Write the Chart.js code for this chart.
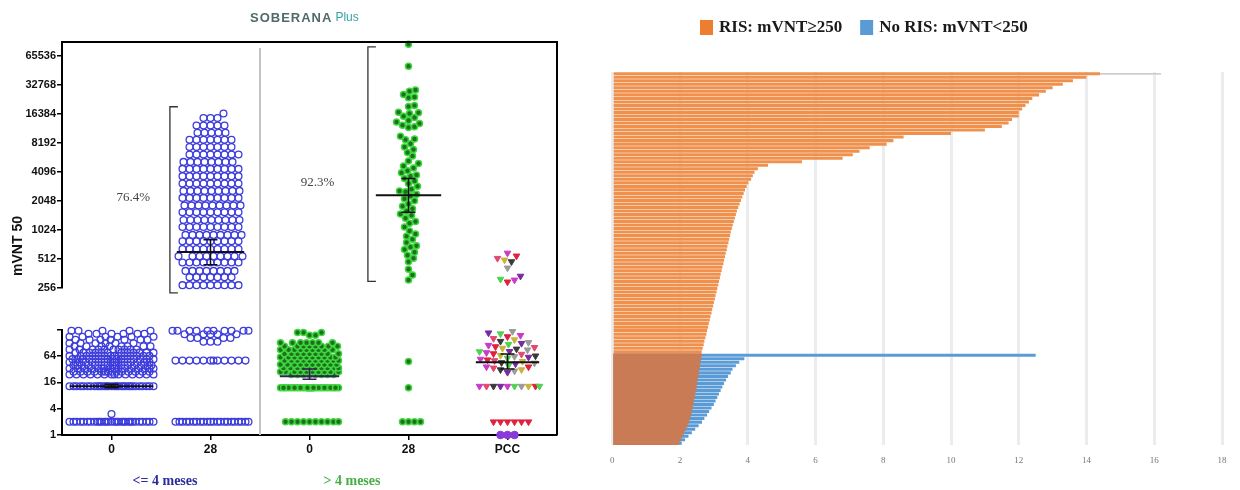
<!DOCTYPE html>
<html>
<head>
<meta charset="utf-8">
<script src="https://cdn.jsdelivr.net/npm/chart.js@4.4.0/dist/chart.umd.min.js"></script>
<style>
  html, body { margin: 0; padding: 0; background: #fff; }
  #wrap { position: relative; width: 1240px; height: 490px; overflow: hidden; }
  #dotChart { position: absolute; left: 0; top: 0; }
  #barChart { position: absolute; left: 600px; top: 0; }
</style>
</head>
<body>
<div id="wrap">
  <canvas id="dotChart" width="600" height="490"></canvas>
  <canvas id="barChart" width="640" height="490"></canvas>
</div>
<script>
// ---------- left panel: mVNT50 by group, entries are titre or [titre, count] ----------
const groupLabels = ['0', '28', '0', '28', 'PCC'];
const periodLabels = ['<= 4 meses', '> 4 meses'];
const upperTicks = [256, 512, 1024, 2048, 4096, 8192, 16384, 32768, 65536];
const lowerTicks = [1, 4, 16, 64, 250];
const cutoff = 250;

const early0 = [[2, 30], [3, 1], [13, 30], [24, 14], [28, 14], [33, 15], [39, 15], [46, 15], [54, 15],
  [64, 14], [76, 12], [90, 10], [106, 8], [125, 6], [150, 7], [175, 6], [205, 6], [240, 5]];
const early28 = [[2, 22], [50, 12], [135, 3], [165, 4], [200, 5], [240, 10],
  [274, 9], [330, 7], [385, 8], [470, 9], [545, 9], [650, 9], [780, 9], [910, 9], [1100, 9],
  [1300, 9], [1560, 9], [1840, 9], [2200, 9], [2600, 9], [3100, 9], [3700, 9], [4400, 9],
  [5200, 8], [6200, 8], [7400, 7], [8800, 7], [10400, 5], [12400, 5], [14800, 3], [16500, 1]];
const late0 = [[2, 10], [12, 26], [24, 8], [28, 10], [34, 10], [41, 10], [50, 10], [60, 10],
  [72, 9], [88, 9], [106, 8], [128, 7], [190, 2], [220, 3]];
const late28 = [[2, 4], 12, 48,
  86000, 51000, 29000, 28000, 26000, 24500, 24000, 20000, 19500, 17000, 16800, 16500, 15500,
  15000, 14000, 13500, 13000, 12500, 12000, 11800, 9600, 9000, 8800, 8000, 7400, 7000, 6500,
  6000, 5300, 5000, 4700, 4500, 4200, 4000, 3800, 3700, 3500, 3300, 3100, 2900, 2700, 2600,
  2550, 2400, 2300, 2150, 2050, 1900, 1800, 1700, 1600, 1500, 1450, 1350, 1250, 1200, 1100,
  1000, 930, 880, 820, 760, 700, 680, 640, 600, 560, 520, 480, 400, 350, 310];
const pcc = [[1, 3], [2, 6], [13, 10],
  27, 29, 31, 31, 34, 36, 36, 39, 42, 44, 45, 48, 50, 52, 54, 57, 60, 62, 64, 66, 70, 72, 76,
  80, 81, 88, 92, 96, 100, 104, 112, 118, 124, 130, 138, 150, 160, 176, 188, 205, 215, 232,
  296, 310, 316, 340, 413, 480, 500, 520, 550, 590];

// geometric means with 95% CI per group
const gmt = [13, 605, 22, 2350, 46];
const gmtLow = [12, 445, 18.7, 1560, 32];
const gmtHigh = [14.5, 810, 32, 3500, 71];

// responder percentages and brackets (day 28 groups)
const pctText = ['76.4%', '92.3%'];
const pctGroup = [1, 3];
const bracketLow = [228, 300];
const bracketHigh = [19400, 81000];

// ---------- right panel: per-subject values ----------
const risValues = [14.4, 14.0, 13.6, 13.3, 13.0, 12.8, 12.6, 12.4, 12.3, 12.2, 12.1, 12.0, 12.0,
  11.8, 11.7, 11.5, 11.0, 10.0, 8.6, 8.3, 8.1, 7.6, 7.3, 7.1, 6.8, 5.6, 4.6, 4.3, 4.2, 4.15, 4.1,
  4.02, 3.97, 3.92, 3.88, 3.84, 3.80, 3.76, 3.72, 3.68, 3.65, 3.62, 3.59, 3.56, 3.53, 3.50,
  3.48, 3.45, 3.43, 3.40, 3.38, 3.35, 3.33, 3.30, 3.28, 3.25, 3.23, 3.20, 3.18, 3.15, 3.13,
  3.10, 3.08, 3.05, 3.03, 3.00, 2.98, 2.95, 2.93, 2.90, 2.88, 2.85, 2.83, 2.80, 2.78, 2.75,
  2.72, 2.70, 2.67, 2.64];
const risLowRows = [2.62, 2.60, 2.58, 2.57, 2.55, 2.54, 2.52, 2.50, 2.48, 2.47, 2.45, 2.43, 2.41,
  2.39, 2.37, 2.35, 2.33, 2.30, 2.27, 2.24, 2.20, 2.15, 2.10, 2.05, 2.00, 1.95];
const noRisValues = [12.5, 3.9, 3.75, 3.65, 3.55, 3.5, 3.42, 3.36, 3.3, 3.25, 3.2, 3.15, 3.1,
  3.05, 3.0, 2.93, 2.86, 2.8, 2.72, 2.65, 2.55, 2.45, 2.35, 2.25, 2.15, 2.05];
const topRef = [16.2];
const legendLabels = ['RIS: mVNT\u2265250', 'No RIS: mVNT<250'];

// ---------- helpers ----------
const X_PX = 99;                              // px per group on the x scale
const UP_PX = 246 / Math.log2(91000 / 256);   // px per doubling, upper segment
const LOW_PX = 105 / Math.log2(250);          // px per doubling, lower segment

function expand(list) {
  const out = [];
  list.forEach(it => {
    if (Array.isArray(it)) { for (let k = 0; k < it[1]; k++) out.push(it[0]); }
    else out.push(it);
  });
  return out;
}

// greedy beeswarm: nearest free spot to the centre, else the least crowded one
function swarm(vals, center, pxPerLog, d, half) {
  const placed = [];
  const pts = [];
  vals.slice().sort((a, b) => a - b).forEach(v => {
    const py = Math.log2(v) * pxPerLog;
    let best = 0, bestGap = -1;
    for (let k = 0; k <= 2 * half; k++) {
      const off = (k % 2 ? 1 : -1) * Math.ceil(k / 2);
      let gap = Infinity;
      for (const p of placed) {
        const dy = p.py - py;
        if (Math.abs(dy) >= d) continue;
        gap = Math.min(gap, Math.hypot(p.off - off, dy));
      }
      if (gap >= d) { best = off; bestGap = gap; break; }
      if (gap > bestGap) { bestGap = gap; best = off; }
    }
    placed.push({py: py, off: best});
    pts.push({x: center + best / X_PX, y: v});
  });
  return pts;
}

function split(list) {
  const all = expand(list);
  return { low: all.filter(v => v < cutoff), up: all.filter(v => v >= cutoff) };
}

const g1 = split(early0), g2 = split(early28), g3 = split(late0), g4 = split(late28), g5 = split(pcc);

const blue = { pointStyle: 'circle', pointRadius: 3.4, pointBorderWidth: 1.3,
  pointBorderColor: '#3c3cdc', pointBackgroundColor: 'rgba(255,255,255,0)' };
const green = { pointStyle: 'circle', pointRadius: 3, pointBorderWidth: 1.5,
  pointBorderColor: '#3ed83e', pointBackgroundColor: '#1f6f1f' };
const pccPalette = ['#e0203c', '#c83cc8', '#4fd24f', '#7a2aa0', '#9a9a9a', '#3a3a3a', '#c8b43c', '#e04a70'];
function pccColor(ctx) {
  const v = ctx.raw ? ctx.raw.y : 10;
  if (v <= 1) return '#8a3ad8';
  if (v <= 2) return '#e0203c';
  return pccPalette[ctx.dataIndex % pccPalette.length];
}
const tri = { pointStyle: ctx => (ctx.raw && ctx.raw.y <= 1 ? 'circle' : 'triangle'), pointRotation: 180,
  pointRadius: 3.8, pointBorderWidth: 1, pointBorderColor: pccColor, pointBackgroundColor: pccColor };

function ds(pts, axis, style) {
  return Object.assign({ data: pts, yAxisID: axis, showLine: false, clip: false }, style);
}

const dotDatasets = [
  ds(swarm(g1.low, 0, LOW_PX, 7, 42), 'yLow', blue),
  ds(swarm(g2.up, 1, UP_PX, 7, 38), 'yUp', blue),
  ds(swarm(g2.low, 1, LOW_PX, 7, 38), 'yLow', blue),
  ds(swarm(g3.low, 2, LOW_PX, 6, 29), 'yLow', green),
  ds(swarm(g4.up, 3, UP_PX, 6, 30), 'yUp', green),
  ds(swarm(g4.low, 3, LOW_PX, 6, 30), 'yLow', green),
  ds(swarm(g5.up, 4, UP_PX, 7, 32), 'yUp', tri),
  ds(swarm(g5.low, 4, LOW_PX, 7, 32), 'yLow', tri)
];

const meanHalf = [0.42, 0.34, 0.3, 0.33, 0.32];

const dotDecor = {
  id: 'dotDecor',
  beforeDatasetsDraw(chart) {
    const {ctx, chartArea: a, scales: {x}} = chart;
    ctx.save();
    ctx.strokeStyle = '#c4c4c4';
    ctx.lineWidth = 2;
    const px = x.getPixelForValue(1.5);
    ctx.beginPath(); ctx.moveTo(px, a.top + 6); ctx.lineTo(px, a.bottom); ctx.stroke();
    ctx.restore();
  },
  afterDatasetsDraw(chart) {
    const {ctx, chartArea: a, scales} = chart;
    const x = scales.x;
    ctx.save();
    // frame top and right
    ctx.strokeStyle = '#000';
    ctx.lineWidth = 2;
    ctx.beginPath();
    ctx.moveTo(a.left, a.top); ctx.lineTo(a.right, a.top); ctx.lineTo(a.right, a.bottom);
    ctx.stroke();

    // geometric means and CI
    gmt.forEach((m, i) => {
      const yScale = m >= cutoff ? scales.yUp : scales.yLow;
      const cx = x.getPixelForValue(i);
      const hw = meanHalf[i] * X_PX;
      const ym = yScale.getPixelForValue(m);
      const y0 = yScale.getPixelForValue(gmtLow[i]);
      const y1 = yScale.getPixelForValue(gmtHigh[i]);
      ctx.strokeStyle = i === 2 ? '#3a1d5a' : '#111';
      ctx.lineWidth = 2;
      ctx.beginPath(); ctx.moveTo(cx - hw, ym); ctx.lineTo(cx + hw, ym); ctx.stroke();
      ctx.lineWidth = 1.5;
      ctx.beginPath();
      ctx.moveTo(cx, y0); ctx.lineTo(cx, y1);
      ctx.moveTo(cx - 7, y0); ctx.lineTo(cx + 7, y0);
      ctx.moveTo(cx - 7, y1); ctx.lineTo(cx + 7, y1);
      ctx.stroke();
    });

    // brackets and percentages
    ctx.strokeStyle = '#333';
    ctx.lineWidth = 1.3;
    pctGroup.forEach((g, i) => {
      const bx = x.getPixelForValue(g - 0.41);
      const yb = scales.yUp.getPixelForValue(bracketLow[i]);
      const yt = scales.yUp.getPixelForValue(bracketHigh[i]);
      ctx.beginPath();
      ctx.moveTo(bx + 8, yt); ctx.lineTo(bx, yt); ctx.lineTo(bx, yb); ctx.lineTo(bx + 8, yb);
      ctx.stroke();
    });
    ctx.fillStyle = '#444';
    ctx.font = '13px "Liberation Serif"';
    ctx.textAlign = 'center';
    ctx.textBaseline = 'middle';
    ctx.fillText(pctText[0], x.getPixelForValue(0.22), scales.yUp.getPixelForValue(2200));
    ctx.fillText(pctText[1], x.getPixelForValue(2.08), scales.yUp.getPixelForValue(3200));

    // title
    ctx.font = 'bold 13px "Liberation Sans"';
    ctx.textAlign = 'left';
    ctx.fillStyle = '#4f6a6a';
    ctx.letterSpacing = '1px';
    ctx.fillText('SOBERANA', 250, 18);
    const tw = ctx.measureText('SOBERANA').width;
    ctx.letterSpacing = '0px';
    ctx.font = '12px "Liberation Sans"';
    ctx.fillStyle = '#36a3a3';
    ctx.fillText('Plus', 253 + tw, 18);

    // y title
    ctx.save();
    ctx.translate(18, 246);
    ctx.rotate(-Math.PI / 2);
    ctx.textAlign = 'center';
    ctx.font = 'bold 14px "Liberation Sans"';
    ctx.fillStyle = '#111';
    ctx.fillText('mVNT 50', 0, 0);
    ctx.restore();

    // period labels
    ctx.font = 'bold 14px "Liberation Serif"';
    ctx.textAlign = 'center';
    ctx.fillStyle = '#2c2c9c';
    ctx.fillText(periodLabels[0], 165, 481);
    ctx.fillStyle = '#46b046';
    ctx.fillText(periodLabels[1], 352, 481);
    ctx.restore();
  }
};

const axisFont = { family: '"Liberation Sans"', size: 11, weight: 'bold' };
function logAxis(ticks, min, max, weight, stackWeight) {
  return {
    type: 'logarithmic', position: 'left', stack: 'titre', weight: weight, stackWeight: stackWeight,
    min: min, max: max,
    afterBuildTicks: s => { s.ticks = ticks.map(v => ({ value: v })); },
    afterFit: s => { s.width = 62; },
    ticks: { color: '#111', font: axisFont, padding: 1, autoSkip: false,
      callback: v => (v === cutoff ? '' : String(v)) },
    grid: { drawOnChartArea: false, tickLength: 5, color: '#000', lineWidth: 1.5 },
    border: { color: '#000', width: 2 }
  };
}

new Chart(document.getElementById('dotChart'), {
  type: 'scatter',
  data: { datasets: dotDatasets },
  options: {
    responsive: false,
    animation: false,
    layout: { padding: { top: 42, right: 43, bottom: 0, left: 0 } },
    plugins: { legend: { display: false }, tooltip: { enabled: false } },
    scales: {
      x: {
        type: 'linear', min: -0.5, max: 4.5,
        afterBuildTicks: s => { s.ticks = groupLabels.map((_, i) => ({ value: i })); },
        afterFit: s => { s.height = 55; },
        ticks: { color: '#111', font: { family: '"Liberation Sans"', size: 12, weight: 'bold' },
          padding: 2, callback: v => groupLabels[v] },
        grid: { drawOnChartArea: false, tickLength: 5, color: '#000', lineWidth: 1.5 },
        border: { color: '#000', width: 2 }
      },
      yUp: logAxis(upperTicks, 256, 91000, 3, 246),
      yGap: {
        type: 'linear', position: 'left', stack: 'titre', weight: 2, stackWeight: 42,
        afterFit: s => { s.width = 62; },
        ticks: { display: false }, grid: { display: false }, border: { display: false }
      },
      yLow: logAxis(lowerTicks, 1, 250, 1, 105)
    }
  },
  plugins: [dotDecor]
});

// ---------- right panel ----------
const rowValues = risValues.concat(risLowRows);
const rowLabels = rowValues.map((_, i) => 'S' + (i + 1));
const noRisRows = risValues.map(() => null).concat(noRisValues);

const barLegend = {
  id: 'barLegend',
  afterDraw(chart) {
    const {ctx} = chart;
    const colors = ['#ed7d31', '#5b9bd5'];
    ctx.save();
    ctx.font = 'bold 17px "Liberation Serif"';
    ctx.textBaseline = 'middle';
    let x = 100;
    legendLabels.forEach((t, i) => {
      ctx.fillStyle = colors[i];
      ctx.fillRect(x, 20, 13, 15);
      ctx.fillStyle = '#1a1a1a';
      ctx.fillText(t, x + 19, 28);
      x += 19 + ctx.measureText(t).width + 18;
    });
    ctx.restore();
  }
};

const isLowRow = ctx => ctx.dataIndex >= risValues.length;

new Chart(document.getElementById('barChart'), {
  type: 'bar',
  data: {
    labels: rowLabels,
    datasets: [
      { label: legendLabels[0], data: rowValues, order: 0, grouped: false,
        backgroundColor: ctx => (isLowRow(ctx) ? '#c97b55' : '#ef914c'),
        inflateAmount: ctx => (isLowRow(ctx) ? 0.6 : 0),
        barPercentage: 0.86, categoryPercentage: 1 },
      { label: legendLabels[1], data: noRisRows, order: 1, grouped: false,
        backgroundColor: '#5b9bd5', barPercentage: 0.86, categoryPercentage: 1 },
      { label: '', data: topRef, order: 2, grouped: false,
        backgroundColor: '#cfcfcf', barPercentage: 0.5, categoryPercentage: 1 }
    ]
  },
  options: {
    indexAxis: 'y',
    responsive: false,
    animation: false,
    layout: { padding: { top: 72, right: 18, bottom: 0, left: 12 } },
    plugins: { legend: { display: false }, tooltip: { enabled: false } },
    scales: {
      x: {
        min: 0, max: 18,
        afterFit: s => { s.height = 45; },
        ticks: { stepSize: 2, color: '#777', padding: 10,
          font: { family: '"Liberation Serif"', size: 9 } },
        grid: { color: '#ececec', lineWidth: 3, drawTicks: false },
        border: { display: false }
      },
      y: { display: false }
    }
  },
  plugins: [barLegend]
});
</script>
</body>
</html>
